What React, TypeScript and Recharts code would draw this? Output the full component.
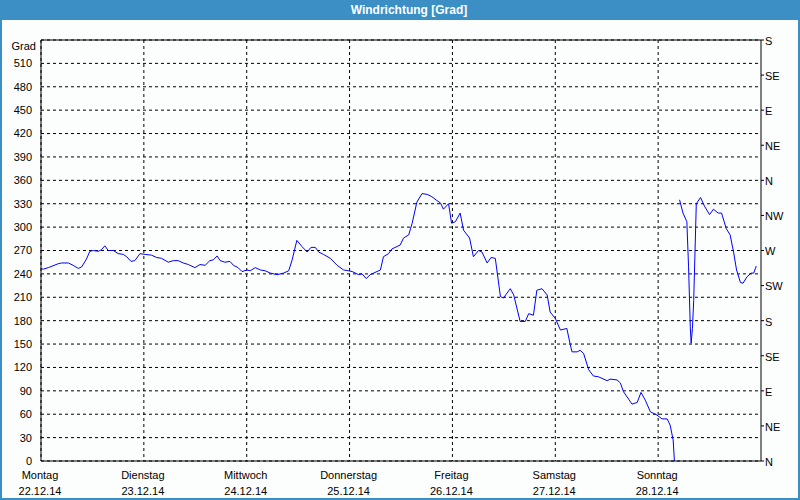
import React from 'react';
import { LineChart, Line, XAxis, YAxis, CartesianGrid, ReferenceLine } from 'recharts';

// hours since Monday 22.12.14 00:00 — first stretch (until direction wraps past north)
const hoursA: number[] = [
  0, 0.5, 1.7, 4.0, 4.8, 6.4, 7.5, 8.7, 9.5, 10.6, 11.4, 12.2, 13.4, 14.1, 14.9, 15.7, 16.9, 18.0, 19.2, 20.0,
  21.0, 21.9, 23.1, 24.3, 25.8, 27.0, 28.1, 29.7, 30.9, 32.0, 33.2, 34.4, 35.9, 37.1, 38.3, 39.4, 40.2, 41.1,
  41.8, 42.9, 44.1, 44.9, 46.0, 46.9, 48.1, 48.8, 50.0, 51.2, 52.3, 53.5, 55.1, 56.6, 57.8, 58.6, 59.7, 60.9,
  62.1, 63.0, 64.0, 64.8, 65.9, 67.5, 69.1, 70.6, 71.8, 72.6, 74.1, 74.9, 75.9, 76.8, 78.4, 79.2, 79.9, 81.1,
  81.9, 83.8, 84.6, 85.8, 86.6, 87.7, 88.9, 90.1, 91.2, 92.4, 93.2, 93.9, 95.1, 95.8, 96.7, 97.8, 98.6, 100.0,
  100.9, 102.1, 102.9, 104.1, 105.0, 106.0, 107.2, 107.9, 109.5, 110.3, 111.8, 113.0, 113.8, 114.9, 115.7,
  116.9, 118.1, 118.8, 120.0, 121.2, 122.7, 123.5, 123.9, 125.1, 125.8, 126.6, 127.8, 128.9, 130.1, 132.1,
  132.8, 134.4, 135.2, 135.9, 137.9, 139.1, 140.0, 141.0, 142.2, 143.7, 144.9, 146.1, 146.8, 147.5, 147.8,
];
const directionA: number[] = [
  247, 246, 248, 253, 254, 254, 251, 247, 249, 259, 269, 270, 269, 271, 276, 270, 270, 266, 265, 262,
  256, 257, 266, 265, 264, 261, 260, 255, 257, 257, 254, 252, 248, 252, 251, 257, 258, 263,
  257, 255, 256, 251, 248, 243, 245, 244, 248, 245, 244, 241, 239, 241, 244, 258, 283, 275,
  268, 274, 274, 268, 265, 260, 251, 245, 244, 243, 239, 240, 234, 239, 243, 245, 262, 266,
  272, 277, 286, 290, 305, 332, 343, 342, 339, 334, 331, 323, 330, 305, 307, 318, 296, 286,
  262, 270, 268, 254, 261, 260, 211, 209, 221, 213, 179, 179, 189, 187, 219,
  221, 213, 191, 183, 168, 170, 149, 140, 140, 142, 138, 117, 109, 108, 103,
  105, 104, 100, 89, 73, 75, 88, 78, 63, 59, 54, 54, 46, 27, 0,
];

// second stretch (after the wrap)
const hoursB: number[] = [
  149.0, 149.8, 150.7, 151.1, 151.5, 151.7, 152.0, 152.3, 152.9, 153.9, 154.8, 156.0, 156.9, 158.0, 158.8,
  159.9, 160.8, 161.6, 162.3, 163.2, 163.8, 164.7, 165.7, 166.3, 166.9,
];
const directionB: number[] = [
  335, 318, 307, 249, 172, 151, 170, 206, 330, 338, 327, 316, 323, 318, 318,
  298, 290, 268, 245, 229, 228, 236, 241, 241, 250,
];

const leftTicks: number[] = [0, 30, 60, 90, 120, 150, 180, 210, 240, 270, 300, 330, 360, 390, 420, 450, 480, 510, 540];
const rightTicks: number[] = [0, 45, 90, 135, 180, 225, 270, 315, 360, 405, 450, 495, 540];
const rightLabels: string[] = ['N', 'NE', 'E', 'SE', 'S', 'SW', 'W', 'NW', 'N', 'NE', 'E', 'SE', 'S'];
const dayTicks: number[] = [0, 24, 48, 72, 96, 120, 144];
const dayNames: string[] = ['Montag', 'Dienstag', 'Mittwoch', 'Donnerstag', 'Freitag', 'Samstag', 'Sonntag'];
const dayDates: string[] = ['22.12.14', '23.12.14', '24.12.14', '25.12.14', '26.12.14', '27.12.14', '28.12.14'];

const data = [
  ...hoursA.map((h, i) => ({ h, a: directionA[i] as number | null, b: null as number | null })),
  ...hoursB.map((h, i) => ({ h, a: null as number | null, b: directionB[i] as number | null })),
];

const FONT = '"Liberation Sans", Arial, sans-serif';
const BLUE = '#3b8fc4';

const LeftTick = (props: any) => {
  const { x, y, payload } = props;
  const top = payload.value === 540;
  return (
    <text x={top ? x + 4 : x} y={top ? y + 6 : y} dy="0.355em" textAnchor="end" fontSize={11} fontFamily={FONT} fill="#000">
      {top ? 'Grad' : String(payload.value)}
    </text>
  );
};

const RightTick = (props: any) => {
  const { x, y, payload } = props;
  const i = rightTicks.indexOf(payload.value);
  return (
    <text x={x} y={y + 1} dy="0.355em" textAnchor="start" fontSize={11} fontFamily={FONT} fill="#000">
      {rightLabels[i]}
    </text>
  );
};

const DayTick = (props: any) => {
  const { x, y, payload } = props;
  const i = dayTicks.indexOf(payload.value);
  if (i < 0) return null;
  return (
    <g>
      <text x={x - 1} y={y + 10} textAnchor="middle" fontSize={11} fontFamily={FONT} fill="#000">{dayNames[i]}</text>
      <text x={x - 1} y={y + 26} textAnchor="middle" fontSize={11} fontFamily={FONT} fill="#000">{dayDates[i]}</text>
    </g>
  );
};

export default function App() {
  return (
    <div style={{ position: 'absolute', left: 0, top: 0, width: 800, height: 500, background: '#fcfefd', overflow: 'hidden' }}>
      <div
        style={{
          position: 'absolute', left: 0, top: 0, width: 800, height: 20, background: BLUE,
          color: '#fff', fontFamily: FONT, fontWeight: 'bold', fontSize: 12, lineHeight: '20px',
        }}
      >
        <div style={{ position: 'absolute', left: 409, top: 0, transform: 'translateX(-50%)', whiteSpace: 'nowrap' }}>
          Windrichtung [Grad]
        </div>
      </div>
      <div style={{ position: 'absolute', left: 0, top: 0 }}>
        <LineChart width={800} height={500} data={data} margin={{ top: 40, right: 0, bottom: 0, left: 0 }}>
          <CartesianGrid yAxisId="l" stroke="#000" strokeDasharray="3 3" horizontalValues={leftTicks} verticalValues={dayTicks} />
          <XAxis
            dataKey="h" type="number" domain={[0, 168]} ticks={dayTicks} interval={0}
            height={39} axisLine={{ stroke: '#000' }} tickLine={false} tick={<DayTick />}
          />
          <YAxis
            yAxisId="l" orientation="left" type="number" domain={[0, 540]} ticks={leftTicks} interval={0}
            width={41} axisLine={{ stroke: '#000' }} tickLine={false} tickSize={6} tickMargin={3} tick={<LeftTick />}
          />
          <YAxis
            yAxisId="r" orientation="right" type="number" domain={[0, 540]} ticks={rightTicks} interval={0}
            width={39} axisLine={{ stroke: '#000' }} tickLine={{ stroke: '#000' }} tickSize={3} tickMargin={1} tick={<RightTick />}
          />
          <ReferenceLine yAxisId="l" y={540} stroke="#000" ifOverflow="visible" />
          <Line
            yAxisId="l" type="linear" dataKey="a" stroke="#0000ff" strokeWidth={1} dot={false}
            activeDot={false} connectNulls={false} isAnimationActive={false}
          />
          <Line
            yAxisId="r" type="linear" dataKey="b" stroke="#0000ff" strokeWidth={1} dot={false}
            activeDot={false} connectNulls={false} isAnimationActive={false}
          />
        </LineChart>
      </div>
      <div
        style={{
          position: 'absolute', left: 0, top: 0, width: 800, height: 500, boxSizing: 'border-box',
          borderLeft: `2px solid ${BLUE}`, borderRight: `2px solid ${BLUE}`, borderBottom: `2px solid ${BLUE}`,
          pointerEvents: 'none',
        }}
      />
    </div>
  );
}
